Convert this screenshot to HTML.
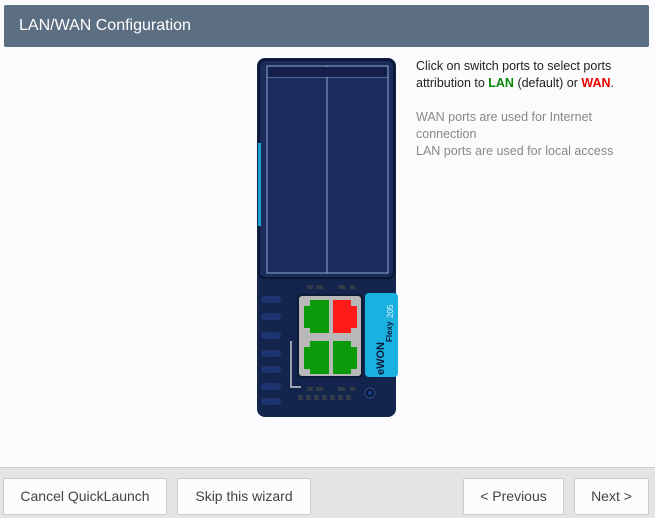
<!DOCTYPE html>
<html><head><style>
body{margin:0;width:655px;height:517px;background:#fbfbfd;font-family:"Liberation Sans",sans-serif;position:relative;overflow:hidden}
.hdr{position:absolute;left:4px;top:5px;width:645px;height:42px;background:#5c6f82;border-radius:2px;color:#fff;font-size:16px;line-height:42px;box-sizing:border-box;padding-left:15px}
.txt{position:absolute;left:416px;top:58px;font-size:12.5px;line-height:17px;color:#222}
.g{color:#888}
.foot{position:absolute;left:0;top:467px;width:655px;height:50px;background:#e4e4e4;border-top:1px solid #ccc}
.btn{position:absolute;top:478px;height:37px;background:#fcfcfc;border:1px solid #ccc;border-radius:2px;box-sizing:border-box;font-size:14px;color:#444;text-align:center;line-height:35px}
.d{position:absolute}
</style></head><body>
<div class="hdr">LAN/WAN Configuration</div>
<div class="txt">Click on switch ports to select ports<br>attribution to <b style="color:#0a8a0a">LAN</b> (default) or <b style="color:#e00">WAN</b>.<br><br><span class="g">WAN ports are used for Internet<br>connection<br>LAN ports are used for local access</span></div>

<svg class="d" style="left:0;top:0" width="655" height="517">
<rect x="257" y="58" width="139" height="359" rx="8" fill="#13254d"/>
<rect x="259" y="60" width="135" height="218" rx="6" fill="#1b2c5c" stroke="#0a1633" stroke-width="2"/>
<rect x="258" y="143" width="3" height="83" fill="#1aa3d0"/>
<rect x="267" y="66" width="121" height="207" fill="none" stroke="#8fa8c8" stroke-width="1"/>
<line x1="267" y1="77" x2="388" y2="77" stroke="#8fa8c8"/>
<line x1="327" y1="66" x2="327" y2="273" stroke="#8fa8c8"/>
<rect x="268" y="67" width="119" height="10" fill="#15204a"/>
<g fill="#1e3470">
<rect x="261" y="296" width="20" height="7" rx="3"/><rect x="261" y="313" width="20" height="7" rx="3"/><rect x="261" y="332" width="20" height="7" rx="3"/><rect x="261" y="350" width="20" height="7" rx="3"/><rect x="261" y="366" width="20" height="7" rx="3"/><rect x="261" y="383" width="20" height="7" rx="3"/><rect x="261" y="398" width="20" height="7" rx="3"/>
</g>
<g fill="#333a48"><rect x="307" y="285" width="6" height="4"/><rect x="316" y="285" width="7" height="4"/><rect x="338" y="285" width="7" height="4"/><rect x="350" y="285" width="5" height="4"/>
<rect x="307" y="387" width="6" height="4"/><rect x="316" y="387" width="7" height="4"/><rect x="338" y="387" width="7" height="4"/><rect x="350" y="387" width="5" height="4"/>
<rect x="298" y="395" width="5" height="5"/><rect x="306" y="395" width="5" height="5"/><rect x="314" y="395" width="5" height="5"/><rect x="322" y="395" width="5" height="5"/><rect x="330" y="395" width="5" height="5"/><rect x="338" y="395" width="5" height="5"/><rect x="346" y="395" width="5" height="5"/></g>
<rect x="297" y="294" width="66" height="84" rx="3" fill="#0e1a36"/>
<rect x="299" y="296" width="62" height="80" rx="3" fill="#b8b8b8"/>
<path d="M310,300h19v33h-19v-5h-6v-22h6z" fill="#0a9a0a"/>
<path d="M333,300h18v6h6v22h-6v5h-18z" fill="#ff1a1a"/>
<path d="M310,341h19v33h-19v-5h-6v-22h6z" fill="#0a9a0a"/>
<path d="M333,341h18v6h6v22h-6v5h-18z" fill="#0a9a0a"/>
<path d="M291,341v46h10" fill="none" stroke="#ccc" stroke-width="1.5"/>
<rect x="365" y="293" width="33" height="84" rx="4" fill="#1ab0e0"/>
<text transform="translate(384,375) rotate(-90)" font-size="11" font-weight="bold" fill="#0a1a3a" font-family="Liberation Sans">eWON</text>
<text transform="translate(392,342) rotate(-90)" font-size="8" font-weight="bold" fill="#0a1a3a" font-family="Liberation Sans">Flexy</text>
<text transform="translate(393,318) rotate(-90)" font-size="8" fill="#eaf6ff" font-family="Liberation Sans">205</text>
<circle cx="370" cy="393" r="5" fill="#0c1a3a" stroke="#2a4a8a"/>
<circle cx="370" cy="393" r="2" fill="#1a3f8a"/>
</svg>

<div class="foot"></div>
<div class="btn" style="left:3px;width:164px">Cancel QuickLaunch</div>
<div class="btn" style="left:177px;width:134px">Skip this wizard</div>
<div class="btn" style="left:463px;width:101px">&lt; Previous</div>
<div class="btn" style="left:574px;width:75px">Next &gt;</div>
</body></html>
